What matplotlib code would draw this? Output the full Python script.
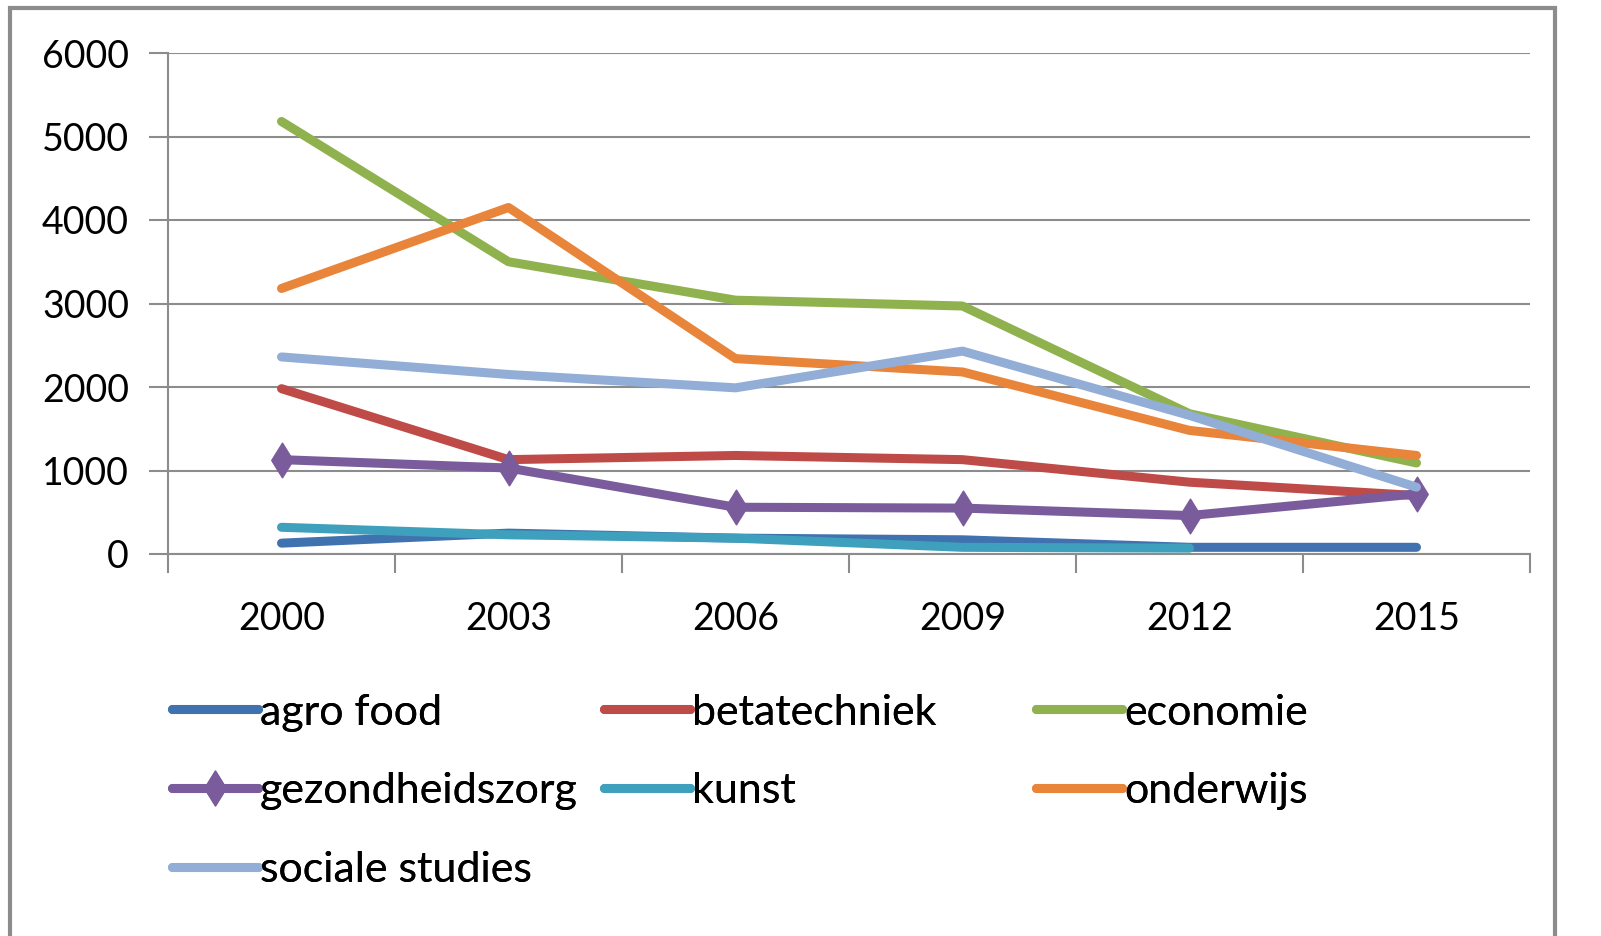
import matplotlib.pyplot as plt
from matplotlib.path import Path
from matplotlib.patches import Rectangle
import numpy as np

plt.rcParams['font.family'] = ['Lato', 'DejaVu Sans']

#======= data ======
years = ['2000', '2003', '2006', '2009', '2012', '2015']
agro_food = [130, 250, 190, 170, 80, 80]
betatechniek = [1980, 1130, 1180, 1130, 860, 700]
economie = [5180, 3500, 3040, 2970, 1680, 1090]
gezondheidszorg = [1130, 1030, 560, 550, 460, 720]
kunst = [320, 230, 190, 80, 70]
onderwijs = [3180, 4150, 2340, 2180, 1480, 1180]
sociale_studies = [2360, 2150, 1990, 2430, 1660, 800]

labels = ['agro food', 'betatechniek', 'economie', 'gezondheidszorg',
          'kunst', 'onderwijs', 'sociale studies']
colors = ['#3F72AF', '#BE4B48', '#8FB24E', '#7A5C9C', '#3EA0BC', '#E8853A', '#92AED6']
series = [agro_food, betatechniek, economie, gezondheidszorg, kunst, onderwijs, sociale_studies]

# tall diamond like Excel's marker
diamond = Path([(0, 1), (0.62, 0), (0, -1), (-0.62, 0), (0, 1)],
               [Path.MOVETO, Path.LINETO, Path.LINETO, Path.LINETO, Path.CLOSEPOLY])

fig = plt.figure(figsize=(16.01, 9.36), dpi=100)
fig.patches.append(Rectangle((10/1601, -0.1), 1545/1601, 1.1 - 8/936, transform=fig.transFigure,
                             fill=False, edgecolor='#8C8C8C', linewidth=3))
ax = fig.add_axes([168/1601, 1 - 554/936, (1530 - 168)/1601, (554 - 53)/936])

handles = {}
for name, vals, c in zip(labels, series, colors):
    x = np.arange(len(vals))
    if name == 'gezondheidszorg':
        h, = ax.plot(x, vals, color=c, lw=6.5, marker=diamond, markersize=25,
                     solid_capstyle='round', solid_joinstyle='round')
    else:
        h, = ax.plot(x, vals, color=c, lw=6.5, solid_capstyle='round', solid_joinstyle='round')
    handles[name] = h

ax.set_xlim(-0.5, 5.5)
ax.set_ylim(0, 6000)
ax.set_yticks(np.arange(0, 6001, 1000))
ax.set_xticks(np.arange(len(years)))
ax.set_xticklabels(years)
ax.set_xticks(np.arange(-0.5, 5.6, 1), minor=True)
ax.tick_params(axis='x', which='major', length=0, pad=34, labelsize=27)
ax.tick_params(axis='x', which='minor', length=14, width=1.5, color='#8C8C8C', direction='out')
ax.tick_params(axis='y', length=14, width=1.5, color='#8C8C8C', pad=14, labelsize=27)
ax.yaxis.grid(True, color='#8C8C8C', lw=1.5)
ax.set_axisbelow(True)
for s in ['top', 'right']:
    ax.spines[s].set_visible(False)
for s in ['left', 'bottom']:
    ax.spines[s].set_color('#8C8C8C')
    ax.spines[s].set_linewidth(1.5)

# Excel lays legend out row by row in equal columns -> one legend per column
columns = [(['agro food', 'gezondheidszorg', 'sociale studies'], 150),
           (['betatechniek', 'kunst'], 582),
           (['economie', 'onderwijs'], 1014)]
for names, xpix in columns:
    leg = fig.legend([handles[n] for n in names], names, loc='upper left',
                     bbox_to_anchor=(xpix/1601, 1 - 672/936), frameon=False, fontsize=31,
                     handlelength=2.0, handletextpad=0.05, labelspacing=0.95, borderpad=0)
    fig.add_artist(leg)

fig.savefig('out.png', dpi=100)
